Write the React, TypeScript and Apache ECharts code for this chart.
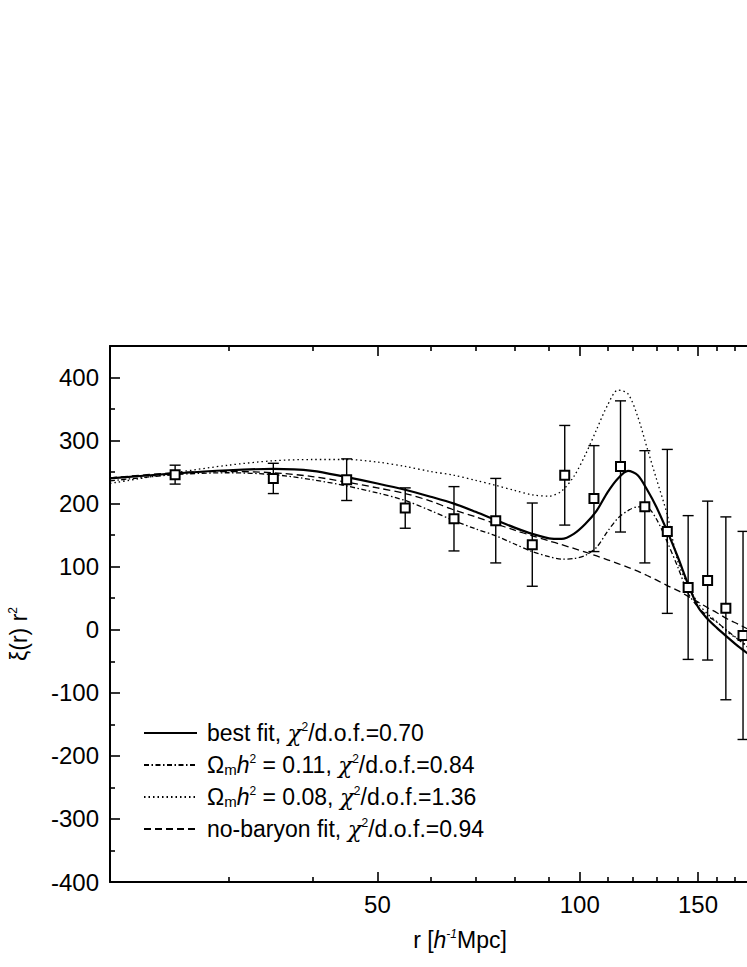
import React, { useEffect, useRef } from 'react';
import * as echarts from 'echarts';

// measured points with error bars
const rPoints = [25, 35, 45, 55, 65, 75, 85, 95, 105, 115, 125, 135, 145, 155, 165, 175];
const xiPoints = [246, 240, 238, 193, 176, 173, 135, 245, 208, 259, 195, 156, 67, 78, 34, -9];
const xiErrors = [15, 24, 33, 32, 51, 67, 66, 79, 84, 104, 89, 130, 114, 126, 145, 165];

// model curves, sampled on a common r grid
const curveR = [20, 25, 30, 35, 40, 45, 50, 55, 60, 65, 70, 75, 80, 85, 90, 94, 98, 102, 106, 110, 114, 118, 122, 126, 130, 135, 140, 145, 150, 155, 160, 166, 172, 178];
const bestFit = [240, 248, 253, 255, 252, 242, 232, 222, 211, 200, 187, 174, 162, 152, 145, 144, 152, 168, 189, 218, 240, 252, 245, 222, 195, 156, 115, 72, 36, 17, 3, -12, -26, -38];
const omega011 = [236, 246, 249, 246, 238, 228, 217, 205, 189, 173, 160, 149, 136, 124, 116, 112, 113, 118, 131, 156, 177, 189, 195, 194, 176, 139, 99, 58, 36, 22, 12, -2, -15, -28];
const omega008 = [232, 249, 261, 268, 270, 270, 266, 259, 251, 245, 237, 229, 221, 214, 212, 220, 243, 278, 318, 356, 380, 374, 338, 288, 240, 182, 108, 70, 42, 25, 13, -4, -15, -27];
const noBaryon = [241, 249, 251, 249, 243, 234, 225, 216, 204, 190, 179, 168, 158, 149, 141, 135, 129, 123, 117, 111, 105, 99, 93, 86, 79, 70, 62, 53, 44, 35, 27, 17, 9, 1];

// axis ticks
const xMajorTicks = [50, 100, 150];
const xMinorTicks = [30, 40, 60, 70, 80, 90, 110, 120, 130, 140, 160, 170, 180, 190];
const yMajorTicks = [-400, -300, -200, -100, 0, 100, 200, 300, 400];
const yMinorTicks = [-350, -250, -150, -50, 50, 150, 250, 350];

const legendLabels: Record<string, string> = {
  best: 'best fit, {chi|χ}{sup|2}/d.o.f.=0.70',
  w011: 'Ω{sub|m}{i|h}{sup|2} = 0.11, {chi|χ}{sup|2}/d.o.f.=0.84',
  w008: 'Ω{sub|m}{i|h}{sup|2} = 0.08, {chi|χ}{sup|2}/d.o.f.=1.36',
  nobar: 'no-baryon fit, {chi|χ}{sup|2}/d.o.f.=0.94',
};
const yAxisTitle = 'ξ(r) r{sup|2}';
const xAxisTitle = 'r [{i|h}{supi|-1}Mpc]';

const FONT = 'Arial, "Liberation Sans", Helvetica, sans-serif';
const X_MIN = 20;
const X_MAX = 200;

const lg = (v: number) => Math.log10(v);

const richText = (size: number) => ({
  sup: { fontSize: 12, lineHeight: 12, verticalAlign: 'top', color: '#000', fill: '#000', fontFamily: FONT },
  supi: { fontSize: 12, lineHeight: 12, verticalAlign: 'top', color: '#000', fill: '#000', fontFamily: FONT, fontStyle: 'italic' },
  sub: { fontSize: 15, lineHeight: -5, verticalAlign: 'bottom', color: '#000', fill: '#000', fontFamily: FONT },
  i: { fontSize: size, fontStyle: 'italic', color: '#000', fill: '#000', fontFamily: FONT },
  chi: { fontSize: size, fontFamily: '"DejaVu Serif", serif', fontStyle: 'italic', color: '#000', fill: '#000' },
});

const App: React.FC = () => {
  const chartRef = useRef<HTMLDivElement>(null);

  useEffect(() => {
    if (!chartRef.current) return;
    const chart = echarts.init(chartRef.current, undefined, { renderer: 'svg' });

    const curve = (vals: number[]) => curveR.map((r, i) => [lg(r), vals[i]]);

    const xBase = {
      type: 'value',
      min: lg(X_MIN),
      max: lg(X_MAX),
      splitLine: { show: false },
    };

    const option = {
      animation: false,
      backgroundColor: '#fff',
      grid: { left: 110, right: -35, top: 346, bottom: 85, outerBoundsMode: 'none', containLabel: false },
      // rotated y-axis title
      graphic: [
        {
          type: 'text',
          x: 19,
          y: 634,
          rotation: Math.PI / 2,
          silent: true,
          style: {
            text: yAxisTitle,
            fontSize: 23,
            fontFamily: FONT,
            fill: '#000',
            lineHeight: 24,
            align: 'center',
            verticalAlign: 'middle',
            rich: richText(23),
          },
        },
      ],
      legend: {
        orient: 'vertical',
        left: 143,
        top: 721,
        padding: 0,
        itemWidth: 53,
        itemHeight: 14,
        itemGap: 8,
        selectedMode: false,
        data: ['best', 'w011', 'w008', 'nobar'],
        formatter: (name: string) => legendLabels[name],
        itemStyle: { opacity: 0 },
        textStyle: {
          fontSize: 23,
          color: '#000',
          fontFamily: FONT,
          lineHeight: 24,
          padding: [0, 0, 0, 5],
          rich: richText(23),
        },
      },
      xAxis: [
        {
          ...xBase,
          position: 'bottom',
          axisLine: { show: true, onZero: false, lineStyle: { color: '#000', width: 2 } },
          axisTick: { show: true, inside: true, length: 10, customValues: xMajorTicks.map(lg), lineStyle: { color: '#000', width: 1.6 } },
          axisLabel: {
            customValues: xMajorTicks.map(lg),
            formatter: (v: number) => String(Math.round(Math.pow(10, v))),
            fontSize: 24,
            color: '#000',
            fontFamily: FONT,
            margin: 10,
          },
          name: xAxisTitle,
          nameLocation: 'middle',
          nameGap: 46,
          nameTextStyle: {
            fontSize: 23,
            color: '#000',
            fontFamily: FONT,
            lineHeight: 24,
            padding: [0, 0, 0, 28],
            rich: richText(23),
          },
        },
        {
          ...xBase,
          position: 'bottom',
          axisLine: { show: false, onZero: false },
          axisTick: { show: true, inside: true, length: 5, customValues: xMinorTicks.map(lg), lineStyle: { color: '#000', width: 1.6 } },
          axisLabel: { show: false },
        },
        {
          ...xBase,
          position: 'top',
          axisLine: { show: true, onZero: false, lineStyle: { color: '#000', width: 2 } },
          axisTick: { show: true, inside: true, length: 10, customValues: xMajorTicks.map(lg), lineStyle: { color: '#000', width: 1.6 } },
          axisLabel: { show: false },
        },
        {
          ...xBase,
          position: 'top',
          axisLine: { show: false, onZero: false },
          axisTick: { show: true, inside: true, length: 5, customValues: xMinorTicks.map(lg), lineStyle: { color: '#000', width: 1.6 } },
          axisLabel: { show: false },
        },
      ],
      yAxis: [
        {
          type: 'value',
          min: -400,
          max: 450,
          position: 'left',
          splitLine: { show: false },
          axisLine: { show: true, onZero: false, lineStyle: { color: '#000', width: 2 } },
          axisTick: { show: true, inside: true, length: 10, customValues: yMajorTicks, lineStyle: { color: '#000', width: 1.6 } },
          axisLabel: { customValues: yMajorTicks, fontSize: 24, color: '#000', fontFamily: FONT, margin: 11 },
        },
        {
          type: 'value',
          min: -400,
          max: 450,
          position: 'left',
          splitLine: { show: false },
          axisLine: { show: false, onZero: false },
          axisTick: { show: true, inside: true, length: 5, customValues: yMinorTicks, lineStyle: { color: '#000', width: 1.6 } },
          axisLabel: { show: false },
        },
      ],
      series: [
        {
          name: 'errors',
          type: 'custom',
          z: 2,
          xAxisIndex: 0,
          yAxisIndex: 0,
          encode: { x: 0, y: [1, 2] },
          data: rPoints.map((r, i) => [lg(r), xiPoints[i] - xiErrors[i], xiPoints[i] + xiErrors[i]]),
          renderItem: (params: any, api: any) => {
            const top = api.coord([api.value(0), api.value(2)]);
            const bot = api.coord([api.value(0), api.value(1)]);
            const half = 5.5;
            const style = { stroke: '#000', lineWidth: 1.4 };
            return {
              type: 'group',
              children: [
                { type: 'line', shape: { x1: top[0], y1: top[1], x2: bot[0], y2: bot[1] }, style },
                { type: 'line', shape: { x1: top[0] - half, y1: top[1], x2: top[0] + half, y2: top[1] }, style },
                { type: 'line', shape: { x1: bot[0] - half, y1: bot[1], x2: bot[0] + half, y2: bot[1] }, style },
              ],
            };
          },
        },
        {
          name: 'best',
          type: 'line',
          z: 3,
          smooth: 0.3,
          showSymbol: false,
          symbol: 'none',
          data: curve(bestFit),
          lineStyle: { color: '#000', width: 2.2, type: 'solid' },
          itemStyle: { color: '#000' },
        },
        {
          name: 'w011',
          type: 'line',
          z: 3,
          smooth: 0.3,
          showSymbol: false,
          symbol: 'none',
          data: curve(omega011),
          lineStyle: { color: '#000', width: 1.3, type: [5, 2.5, 1.5, 2.5] },
          itemStyle: { color: '#000' },
        },
        {
          name: 'w008',
          type: 'line',
          z: 3,
          smooth: 0.3,
          showSymbol: false,
          symbol: 'none',
          data: curve(omega008),
          lineStyle: { color: '#000', width: 1.3, type: [1.5, 3] },
          itemStyle: { color: '#000' },
        },
        {
          name: 'nobar',
          type: 'line',
          z: 3,
          smooth: 0.3,
          showSymbol: false,
          symbol: 'none',
          data: curve(noBaryon),
          lineStyle: { color: '#000', width: 1.3, type: [7, 4] },
          itemStyle: { color: '#000' },
        },
        {
          name: 'data',
          type: 'scatter',
          z: 4,
          symbol: 'rect',
          symbolSize: 9,
          data: rPoints.map((r, i) => [lg(r), xiPoints[i]]),
          itemStyle: { color: '#fff', borderColor: '#000', borderWidth: 2, opacity: 1 },
        },
      ],
    };

    chart.setOption(option as any);

    const handleResize = () => chart.resize();
    window.addEventListener('resize', handleResize);
    return () => {
      window.removeEventListener('resize', handleResize);
      chart.dispose();
    };
  }, []);

  return (
    <div
      ref={chartRef}
      style={{ position: 'absolute', left: 0, top: 0, width: '747px', height: '967px', background: '#fff' }}
    />
  );
};

export default App;
